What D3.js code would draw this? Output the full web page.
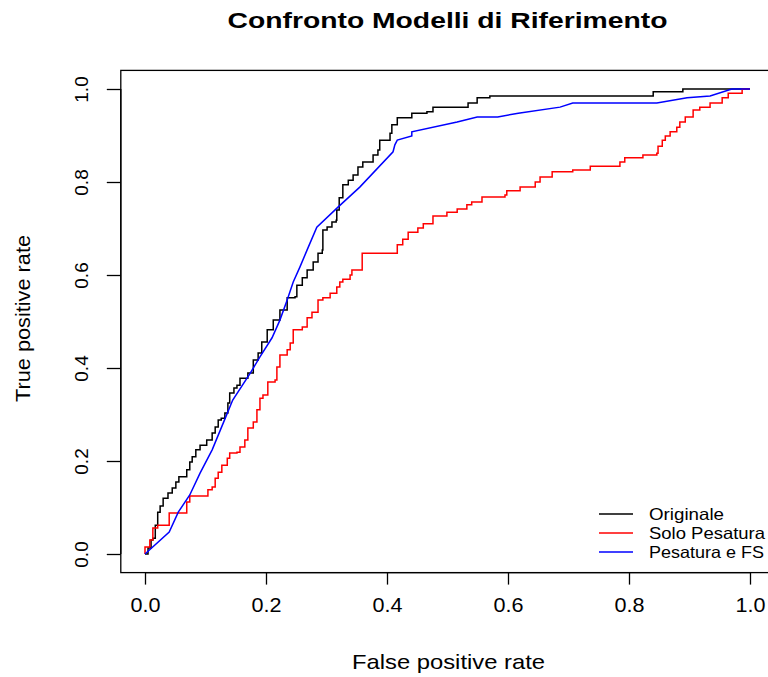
<!DOCTYPE html>
<html>
<head>
<meta charset="utf-8">
<script src="https://cdn.jsdelivr.net/npm/d3@7"></script>
<style>
  html, body { margin: 0; padding: 0; background: #fff; }
  svg { display: block; font-family: "Liberation Sans", Arial, Helvetica, sans-serif; }
</style>
</head>
<body>
<svg id="chart" width="768" height="677"></svg>
<script>
// ROC curves: false positive rate (x) vs true positive rate (y)
const originaleFpr = [0,0.005,0.010,0.013,0.017,0.021,0.025,0.030,0.038,0.045,0.051,0.056,0.069,0.074,0.078,0.084,0.091,0.102,0.111,0.116,0.121,0.126,0.132,0.137,0.140,0.147,0.152,0.157,0.170,0.179,0.187,0.193,0.202,0.212,0.223,0.235,0.248,0.251,0.260,0.268,0.278,0.286,0.293,0.294,0.301,0.309,0.316,0.317,0.321,0.327,0.336,0.344,0.352,0.360,0.377,0.385,0.388,0.405,0.408,0.417,0.441,0.466,0.476,0.534,0.549,0.570,0.840,0.889,1];
const originaleTpr = [0,0.013,0.030,0.034,0.062,0.090,0.103,0.120,0.131,0.142,0.155,0.166,0.181,0.198,0.209,0.224,0.234,0.245,0.260,0.273,0.288,0.292,0.303,0.325,0.346,0.357,0.363,0.378,0.389,0.417,0.432,0.456,0.482,0.503,0.525,0.551,0.553,0.578,0.594,0.611,0.628,0.647,0.654,0.697,0.703,0.714,0.718,0.740,0.766,0.794,0.804,0.815,0.832,0.843,0.858,0.869,0.890,0.905,0.923,0.938,0.948,0.951,0.961,0.970,0.981,0.985,0.994,1,1];

const soloFpr = [0,0,0.008,0.013,0.021,0.033,0.040,0.066,0.069,0.074,0.099,0.104,0.111,0.116,0.121,0.127,0.136,0.140,0.152,0.157,0.165,0.170,0.179,0.185,0.190,0.195,0.203,0.215,0.218,0.223,0.235,0.240,0.245,0.260,0.268,0.276,0.286,0.294,0.306,0.317,0.322,0.327,0.339,0.342,0.359,0.359,0.413,0.417,0.426,0.435,0.451,0.460,0.476,0.499,0.516,0.532,0.540,0.557,0.595,0.598,0.620,0.645,0.653,0.673,0.707,0.736,0.785,0.793,0.823,0.846,0.848,0.855,0.860,0.868,0.879,0.884,0.893,0.906,0.917,0.934,0.954,0.964,0.987,1];
const soloTpr = [0,0.015,0.030,0.056,0.062,0.062,0.088,0.088,0.112,0.125,0.125,0.138,0.144,0.163,0.176,0.191,0.206,0.217,0.219,0.230,0.245,0.271,0.284,0.310,0.335,0.342,0.370,0.374,0.402,0.428,0.439,0.454,0.482,0.488,0.508,0.520,0.546,0.551,0.561,0.574,0.585,0.591,0.600,0.611,0.611,0.647,0.647,0.665,0.677,0.692,0.701,0.710,0.727,0.735,0.742,0.751,0.757,0.768,0.772,0.781,0.789,0.800,0.811,0.822,0.826,0.834,0.843,0.852,0.858,0.862,0.877,0.890,0.899,0.908,0.918,0.929,0.940,0.955,0.961,0.970,0.981,0.991,1,1];

const fsFpr = [0,0.040,0.055,0.074,0.091,0.111,0.132,0.145,0.174,0.190,0.210,0.223,0.235,0.245,0.256,0.268,0.284,0.319,0.355,0.410,0.413,0.417,0.441,0.441,0.516,0.549,0.583,0.617,0.686,0.707,0.846,0.896,0.934,0.970,1];
const fsTpr = [0,0.047,0.090,0.127,0.174,0.224,0.290,0.331,0.389,0.424,0.465,0.503,0.546,0.585,0.617,0.654,0.703,0.746,0.789,0.865,0.880,0.890,0.899,0.908,0.929,0.940,0.940,0.948,0.961,0.970,0.970,0.981,0.985,1,1];

const seriesNames = ["Originale", "Solo Pesatura", "Pesatura e FS"];
const seriesColors = ["#000000", "#ff0000", "#0000ff"];
const tickValues = [0, 0.2, 0.4, 0.6, 0.8, 1.0];
const chartTitle = "Confronto Modelli di Riferimento";
const xTitle = "False positive rate";
const yTitle = "True positive rate";

const svg = d3.select("#chart");

// data ranges padded by 4% on each side, as in a base-graphics plot region
const x = d3.scaleLinear().domain([0, 1]).range([145, 750]);
const y = d3.scaleLinear().domain([0, 1]).range([554, 89]);
const pad = 0.04;
const boxX0 = x(-pad), boxX1 = x(1 + pad), boxY0 = y(1 + pad), boxY1 = y(-pad);

svg.append("rect")
  .attr("x", boxX0).attr("y", boxY0)
  .attr("width", boxX1 - boxX0).attr("height", boxY1 - boxY0)
  .attr("fill", "none").attr("stroke", "#000").attr("stroke-width", 1.3);

// axes
const xAxis = d3.axisBottom(x).tickValues(tickValues).tickFormat(d3.format(".1f"))
  .tickSizeOuter(0).tickSizeInner(12).tickPadding(13);
const gx = svg.append("g").attr("transform", `translate(0,${boxY1})`).call(xAxis);
gx.select(".domain").attr("d", `M${x(0)},0H${x(1)}`).attr("stroke-width", 1.3);
gx.selectAll(".tick line").attr("stroke-width", 1.3);
gx.selectAll(".tick text").attr("font-size", 20).attr("fill", "#000")
  .attr("textLength", 30).attr("lengthAdjust", "spacingAndGlyphs")
  .attr("font-family", "Liberation Sans, Arial, sans-serif");

const yAxis = d3.axisLeft(y).tickValues(tickValues).tickFormat(d3.format(".1f"))
  .tickSizeOuter(0).tickSizeInner(14);
const gy = svg.append("g").attr("transform", `translate(${boxX0},0)`).call(yAxis);
gy.select(".domain").attr("d", `M0,${y(0)}V${y(1)}`).attr("stroke-width", 1.3);
gy.selectAll(".tick line").attr("stroke-width", 1.3);
gy.selectAll(".tick text")
  .attr("x", null).attr("dy", null)
  .attr("text-anchor", "middle")
  .attr("transform", `translate(-33,0) rotate(-90)`)
  .attr("font-size", 19).attr("fill", "#000")
  .attr("font-family", "Liberation Sans, Arial, sans-serif");

// curves
const stepLine = d3.line().x(d => x(d[0])).y(d => y(d[1])).curve(d3.curveStepAfter);
const straightLine = d3.line().x(d => x(d[0])).y(d => y(d[1]));

const curves = [
  { pts: d3.zip(originaleFpr, originaleTpr), gen: stepLine },
  { pts: d3.zip(soloFpr, soloTpr), gen: stepLine },
  { pts: d3.zip(fsFpr, fsTpr), gen: straightLine }
];
curves.forEach((c, i) => {
  svg.append("path")
    .attr("d", c.gen(c.pts))
    .attr("fill", "none")
    .attr("stroke", seriesColors[i])
    .attr("stroke-width", 1.5)
    .attr("stroke-linejoin", "miter");
});

// titles
svg.append("text")
  .attr("x", (boxX0 + boxX1) / 2).attr("y", 28)
  .attr("text-anchor", "middle")
  .attr("font-size", 22).attr("font-weight", "bold")
  .attr("textLength", 440).attr("lengthAdjust", "spacingAndGlyphs")
  .text(chartTitle);

svg.append("text")
  .attr("x", (boxX0 + boxX1) / 2 + 1).attr("y", 669)
  .attr("text-anchor", "middle")
  .attr("font-size", 21)
  .attr("textLength", 193).attr("lengthAdjust", "spacingAndGlyphs")
  .text(xTitle);

svg.append("text")
  .attr("transform", `translate(30,${(boxY0 + boxY1) / 2 - 3}) rotate(-90)`)
  .attr("text-anchor", "middle")
  .attr("font-size", 21)
  .attr("textLength", 167).attr("lengthAdjust", "spacingAndGlyphs")
  .text(yTitle);

// legend
const legend = svg.append("g");
const legendY = [514, 533, 552];
const legendWidths = [75, 116, 115];
seriesNames.forEach((name, i) => {
  legend.append("line")
    .attr("x1", 599).attr("x2", 633)
    .attr("y1", legendY[i]).attr("y2", legendY[i])
    .attr("stroke", seriesColors[i]).attr("stroke-width", 1.5);
  legend.append("text")
    .attr("x", 649).attr("y", legendY[i])
    .attr("dy", "0.36em")
    .attr("font-size", 16.5)
    .attr("textLength", legendWidths[i]).attr("lengthAdjust", "spacingAndGlyphs")
    .text(name);
});
</script>
</body>
</html>
